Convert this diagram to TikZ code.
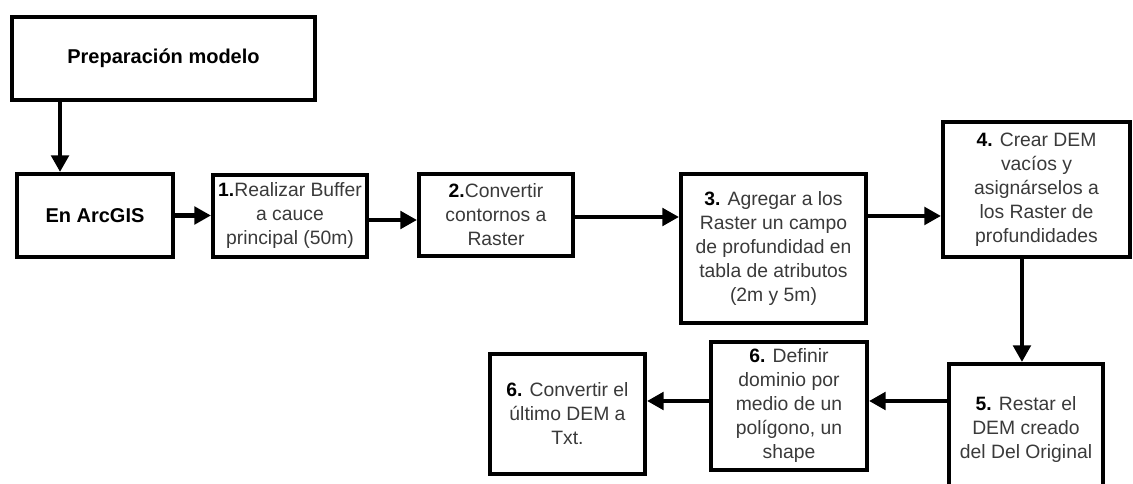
\documentclass[tikz,border=0pt]{standalone}
\usepackage{fontspec}
\setmainfont{Liberation Sans}
\usetikzlibrary{arrows.meta}
\definecolor{txtgray}{HTML}{3A3A3A}
\tikzset{
  box/.style={draw=black, line width=3pt, fill=white, align=center, inner sep=0pt,
    text=txtgray, font=\fontsize{14.5}{18}\selectfont},
  titlebox/.style={box, text=black, font=\fontsize{15}{18}\selectfont\bfseries},
  arr/.style={line width=3.3pt, -{Triangle[length=12.5pt,width=13pt]}},
}
\newcommand{\nb}[1]{\textbf{\color{black}#1}}
\begin{document}
\begin{tikzpicture}[x=0.75pt,y=-0.75pt]
\useasboundingbox (0,0) rectangle (1133,484);
\node[titlebox, minimum width=227.25pt, minimum height=62.25pt] (prep) at (163.5,58.5) {Preparación modelo};
\node[titlebox, minimum width=117pt, minimum height=62.25pt] (arc) at (95,215.5) {En ArcGIS};
\node[box, minimum width=115.5pt, minimum height=61.5pt] (b1) at (290,216) {\nb{1.}Realizar Buffer\\a cauce\\principal (50m)};
\node[box, minimum width=115.5pt, minimum height=61.5pt] (b2) at (496,215) {\nb{2.}Convertir\\contornos a\\Raster};
\node[box, minimum width=138.75pt, minimum height=111.75pt] (b3) at (773.5,248.5) {\nb{3.} Agregar a los\\Raster un campo\\de profundidad en\\tabla de atributos\\(2m y 5m)};
\node[box, minimum width=140.25pt, minimum height=101.25pt] (b4) at (1036.5,189.5) {\nb{4.} Crear DEM\\vacíos y\\asignárselos a\\los Raster de\\profundidades};
\node[box, minimum width=115.5pt, minimum height=99pt] (b5) at (1026,430) {\nb{5.} Restar el\\DEM creado\\del Del Original};
\node[box, minimum width=117pt, minimum height=96pt] (b6) at (789,406) {\nb{6.} Definir\\dominio por\\medio de un\\polígono, un\\shape};
\node[box, minimum width=116.25pt, minimum height=90pt] (b7) at (567.5,414) {\nb{6.} Convertir el\\último DEM a\\Txt.};

\draw[arr] ([xshift=-77.6pt]prep.south) coordinate (p1) -- (p1 |- arc.north);
\draw[arr] (arc.east) -- (arc.east -| b1.west);
\draw[arr] ([yshift=-3pt]b1.east) coordinate (p2) -- (p2 -| b2.west);
\draw[arr] ([yshift=-1.5pt]b2.east) coordinate (p3) -- (p3 -| b3.west);
\draw[arr] ([yshift=24.4pt]b3.east) coordinate (p4) -- (p4 -| b4.west);
\draw[arr] ([xshift=-10.9pt]b4.south) coordinate (p5) -- (p5 |- b5.north);
\draw[arr] ([yshift=21.75pt]b5.west) coordinate (p6) -- (p6 -| b6.east);
\draw[arr] ([yshift=3.75pt]b6.west) coordinate (p7) -- (p7 -| b7.east);
\end{tikzpicture}
\end{document}
